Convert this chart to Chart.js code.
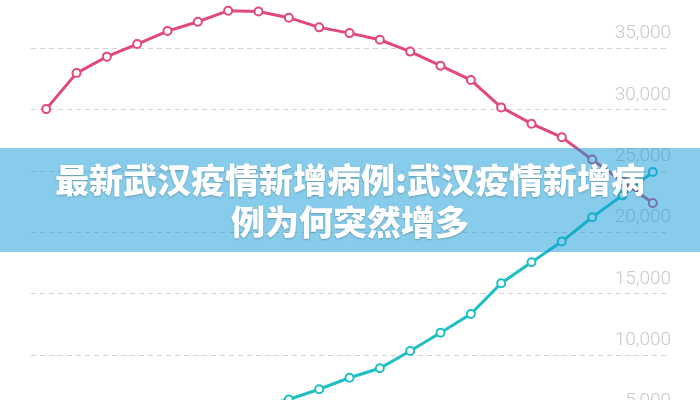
<!DOCTYPE html>
<html>
<head>
<meta charset="utf-8">
<script src="https://cdn.jsdelivr.net/npm/chart.js@4"></script>
<style>
  html, body { margin: 0; padding: 0; width: 700px; height: 400px; overflow: hidden; background: #fff; }
  #wrap { position: absolute; left: 0; top: -14px; width: 700px; height: 506px; }
  #banner {
    position: absolute; left: 0; top: 148px; width: 700px; height: 104px;
    background: rgba(15, 156, 215, 0.5);
    color: #fff; text-align: center;
    font-family: "Noto Sans CJK SC", sans-serif; font-weight: 900;
    font-size: 34px; line-height: 42px;
    padding-top: 10px; box-sizing: border-box;
    text-shadow: 0 1px 2px rgba(0,0,0,0.25);
  }
</style>
</head>
<body>
<div id="wrap"><canvas id="myChart"></canvas></div>
<div id="banner">最新武汉疫情新增病例:武汉疫情新增病<br>例为何突然增多</div>
<script>
// dias (eje x oculto)
var days = ['1','2','3','4','5','6','7','8','9','10','11','12','13','14','15','16','17','18','19','20','21'];
// serie rosa
var pinkValues = [30070, 33010, 34350, 35380, 36440, 37200, 38100, 38040, 37530, 36740, 36270,
                  35730, 34760, 33610, 32440, 30210, 28880, 27770, 25950, 24180, 22400];
// serie turquesa (los primeros quedan fuera de la imagen)
var tealValues = [1000, 1500, 2100, 2700, 3400, 4200, 5000, 5800, 6370, 7210, 8150,
                  8920, 10330, 11820, 13350, 15860, 17570, 19260, 21240, 23030, 24930];
// marcas del eje y
var yTicks = [0, 5000, 10000, 15000, 20000, 25000, 30000, 35000];
var yMin = 0, yMax = 38940;

var ctx = document.getElementById('myChart').getContext('2d');
var myChart = new Chart(ctx, {
  type: 'line',
  data: {
    labels: days,
    datasets: [{
      label: 'pink',
      data: pinkValues,
      borderColor: '#e0487e',
      borderWidth: 3,
      pointRadius: 4,
      pointBorderWidth: 2,
      pointBackgroundColor: '#fff',
      pointBorderColor: '#e0487e',
      tension: 0
    }, {
      label: 'teal',
      data: tealValues,
      borderColor: '#1dbfc4',
      borderWidth: 3,
      pointRadius: 4,
      pointBorderWidth: 2,
      pointBackgroundColor: '#fff',
      pointBorderColor: '#1dbfc4',
      tension: 0
    }]
  },
  options: {
    responsive: true,
    maintainAspectRatio: false,
    animation: false,
    layout: { padding: { left: 31, right: 26, top: 0, bottom: 0 } },
    plugins: { legend: { display: false }, tooltip: { enabled: false } },
    scales: {
      x: { display: false, offset: true },
      y: {
        position: 'right',
        min: yMin,
        max: yMax,
        afterBuildTicks: function (axis) {
          axis.ticks = yTicks.map(function (v) { return { value: v }; });
        },
        border: { display: false, dash: [5, 4] },
        grid: { color: '#d2d2d2', drawTicks: false, lineWidth: 1 },
        ticks: {
          mirror: true,
          labelOffset: -15,
          padding: 3,
          color: '#c8c8c8',
          font: { family: 'Roboto', weight: '300', size: 19 },
          callback: function (v) { return v.toLocaleString('en-US'); }
        }
      }
    }
  }
});
</script>
</body>
</html>
